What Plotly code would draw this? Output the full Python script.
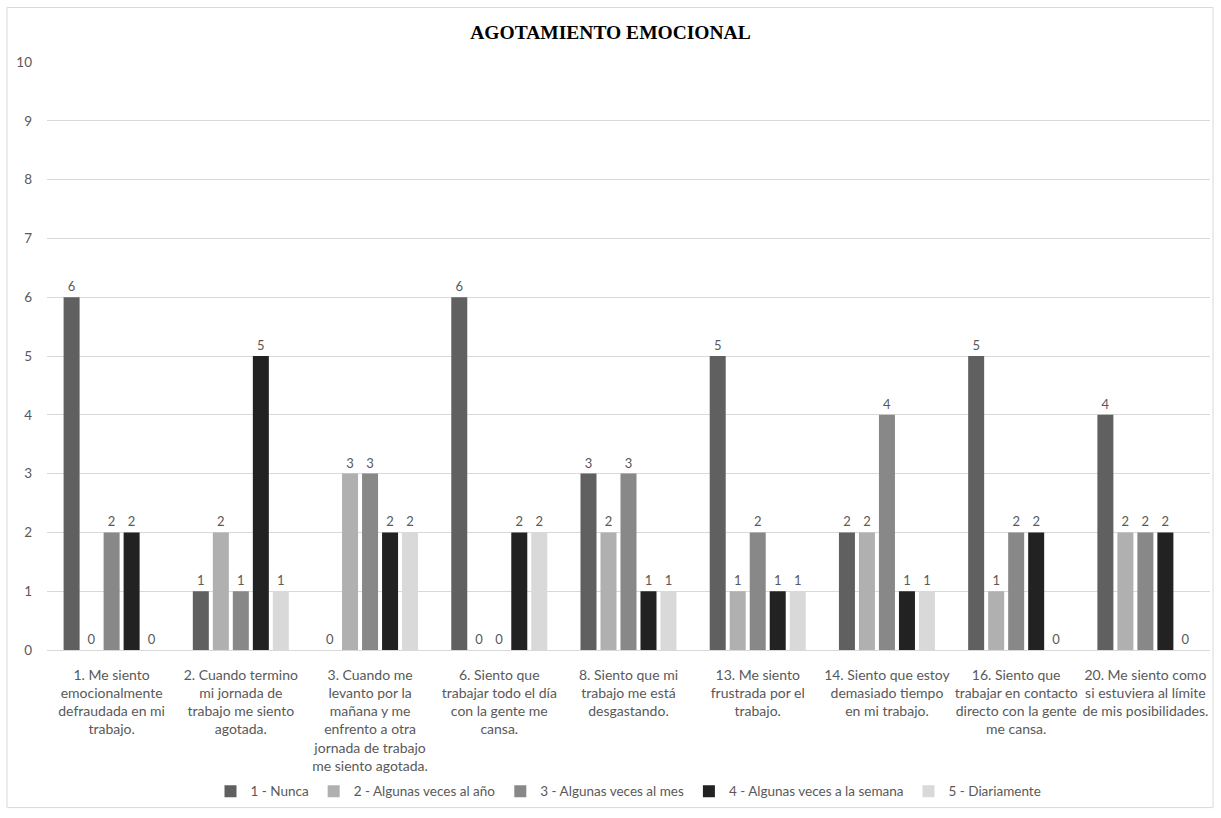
import plotly.graph_objects as go

# Items of the "agotamiento emocional" subscale (wrapped for the axis)
items = [
    "1. Me siento<br>emocionalmente<br>defraudada en mi<br>trabajo.",
    "2. Cuando termino<br>mi jornada de<br>trabajo me siento<br>agotada.",
    "3. Cuando me<br>levanto por la<br>mañana y me<br>enfrento a otra<br>jornada de trabajo<br>me siento agotada.",
    "6. Siento que<br>trabajar todo el día<br>con la gente me<br>cansa.",
    "8. Siento que mi<br>trabajo me está<br>desgastando.",
    "13. Me siento<br>frustrada por el<br>trabajo.",
    "14. Siento que estoy<br>demasiado tiempo<br>en mi trabajo.",
    "16. Siento que<br>trabajar en contacto<br>directo con la gente<br>me cansa.",
    "20. Me siento como<br>si estuviera al límite<br>de mis posibilidades.",
]

# Number of responses per frequency option
nunca = [6, 1, 0, 6, 3, 5, 2, 5, 4]
veces_anio = [0, 2, 3, 0, 2, 1, 2, 1, 2]
veces_mes = [2, 1, 3, 0, 3, 2, 4, 2, 2]
veces_semana = [2, 5, 2, 2, 1, 1, 1, 2, 2]
diariamente = [0, 1, 2, 2, 1, 1, 1, 0, 0]

series = [
    ("1 - Nunca", nunca, "#606060"),
    ("2 - Algunas veces al año", veces_anio, "#b0b0b0"),
    ("3 - Algunas veces al mes", veces_mes, "#888888"),
    ("4 - Algunas veces a la semana", veces_semana, "#222222"),
    ("5 - Diariamente", diariamente, "#d9d9d9"),
]

font_family = "Lato, 'Open Sans', sans-serif"
grey_text = "#595959"

fig = go.Figure()
for name, values, color in series:
    fig.add_trace(go.Bar(
        x=items, y=values, name=name,
        marker=dict(color=color, line=dict(width=0)),
        text=values, textposition="outside", cliponaxis=False,
        textfont=dict(family=font_family, size=13, color=grey_text),
    ))

fig.update_layout(
    width=1221, height=818,
    paper_bgcolor="white", plot_bgcolor="white",
    margin=dict(l=47, r=11, t=62, b=163),
    barmode="group", bargap=0.226, bargroupgap=0.2,
    title=dict(
        text="<b>AGOTAMIENTO EMOCIONAL</b>",
        x=0.5, xanchor="center", y=0.961, yanchor="middle",
        font=dict(family="'Liberation Serif', 'Times New Roman', serif", size=19.5, color="black"),
    ),
    xaxis=dict(
        showgrid=False, showline=True, linecolor="#d9d9d9", linewidth=1,
        ticks="", tickangle=0, ticklabelstandoff=12,
        tickfont=dict(family=font_family, size=14, color=grey_text),
    ),
    yaxis=dict(
        range=[0, 10], dtick=1, showgrid=True, gridcolor="#d9d9d9",
        zeroline=False, showline=False, ticks="", ticklabelstandoff=14,
        tickfont=dict(family=font_family, size=13.5, color=grey_text),
    ),
    legend=dict(
        orientation="h", x=0.5, xanchor="center", y=-0.2405, yanchor="middle",
        font=dict(family=font_family, size=13.5, color=grey_text),
        itemwidth=30, traceorder="normal", bgcolor="rgba(0,0,0,0)",
    ),
    showlegend=True,
)

# Outer chart frame
fig.add_shape(
    type="rect", xref="paper", yref="paper",
    x0=-0.0344, x1=1.0026, y0=-0.268, y1=1.0927,
    line=dict(color="#d9d9d9", width=1), fillcolor="rgba(0,0,0,0)",
)

fig.write_html("out.html")
